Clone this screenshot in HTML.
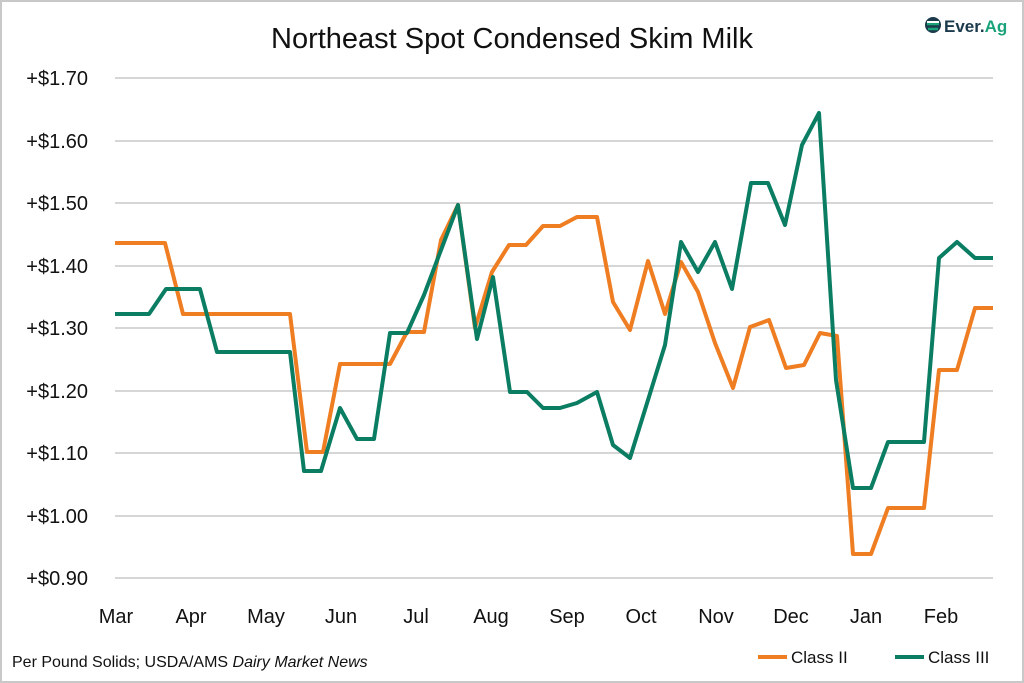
<!DOCTYPE html>
<html><head><meta charset="utf-8"><style>
html,body{margin:0;padding:0;background:#fff}
svg{display:block;font-family:"Liberation Sans",sans-serif}
</style></head><body>
<svg width="1024" height="683" viewBox="0 0 1024 683" xmlns="http://www.w3.org/2000/svg">
<rect x="1" y="1" width="1022" height="681" fill="#fff" stroke="#c8c8c8" stroke-width="2"/>
<text x="512" y="48" text-anchor="middle" font-size="29" fill="#111">Northeast Spot Condensed Skim Milk</text>
<g transform="translate(933,25)">
<circle cx="0" cy="0" r="8" fill="#1b3a4b"/>
<path d="M-6,-1 H6 M-5,4 H5" stroke="#1aa37a" stroke-width="2.5"/>
<rect x="-6" y="-4" width="12" height="2" fill="#fff"/>
</g>
<text x="944" y="32" font-size="17" font-weight="bold" fill="#1b3a4b">Ever.<tspan fill="#1aa37a">Ag</tspan></text>
<g stroke="#c8c8c8" stroke-width="1.5">
<line x1="115" y1="78" x2="993" y2="78"/><line x1="115" y1="141" x2="993" y2="141"/>
<line x1="115" y1="203" x2="993" y2="203"/><line x1="115" y1="266" x2="993" y2="266"/>
<line x1="115" y1="328" x2="993" y2="328"/><line x1="115" y1="391" x2="993" y2="391"/>
<line x1="115" y1="453" x2="993" y2="453"/><line x1="115" y1="516" x2="993" y2="516"/>
<line x1="115" y1="578" x2="993" y2="578"/>
</g>
<g font-size="20" fill="#111" text-anchor="end">
<text x="88" y="85">+$1.70</text><text x="88" y="148">+$1.60</text>
<text x="88" y="210">+$1.50</text><text x="88" y="273">+$1.40</text>
<text x="88" y="335">+$1.30</text><text x="88" y="398">+$1.20</text>
<text x="88" y="460">+$1.10</text><text x="88" y="523">+$1.00</text>
<text x="88" y="585">+$0.90</text>
</g>
<g font-size="20" fill="#111" text-anchor="middle">
<text x="116" y="623">Mar</text><text x="191" y="623">Apr</text><text x="266" y="623">May</text>
<text x="341" y="623">Jun</text><text x="416" y="623">Jul</text><text x="491" y="623">Aug</text>
<text x="567" y="623">Sep</text><text x="641" y="623">Oct</text><text x="716" y="623">Nov</text>
<text x="791" y="623">Dec</text><text x="866" y="623">Jan</text><text x="941" y="623">Feb</text>
</g>
<polyline fill="none" stroke="#ef7d22" stroke-width="4" stroke-linejoin="round" points="115,243 165,243 183,314 290,314 307,452 323,452 340,364 390,364 407,332 424,332 441,240 458,205 475,328 492,272 509,245 526,245 543,226 560,226 577,217 597,217 613,302 630,330 648,261 665,314 681,262 698,292 715,343 733,388 750,327 769,320 786,368 804,365 820,333 837,336 853,554 871,554 888,508 924,508 939,370 957,370 975,308 993,308"/>
<polyline fill="none" stroke="#0a7d62" stroke-width="4" stroke-linejoin="round" points="115,314 149,314 166,289 200,289 217,352 290,352 304,471 321,471 340,408 357,439 374,439 390,333 407,333 424,295 441,250 458,205 477,339 493,277 510,392 527,392 543,408 560,408 577,403 597,392 613,445 630,458 648,400 665,345 681,242 698,272 715,242 732,289 751,183 768,183 785,225 802,145 819,113 836,380 853,488 871,488 888,442 924,442 939,258 957,242 975,258 993,258"/>
<text x="12" y="667" font-size="16" fill="#111">Per Pound Solids; USDA/AMS <tspan font-style="italic">Dairy Market News</tspan></text>
<line x1="758" y1="657" x2="787" y2="657" stroke="#ef7d22" stroke-width="4"/>
<text x="791" y="663" font-size="17" fill="#111">Class II</text>
<line x1="895" y1="657" x2="924" y2="657" stroke="#0a7d62" stroke-width="4"/>
<text x="928" y="663" font-size="17" fill="#111">Class III</text>
</svg>
</body></html>
